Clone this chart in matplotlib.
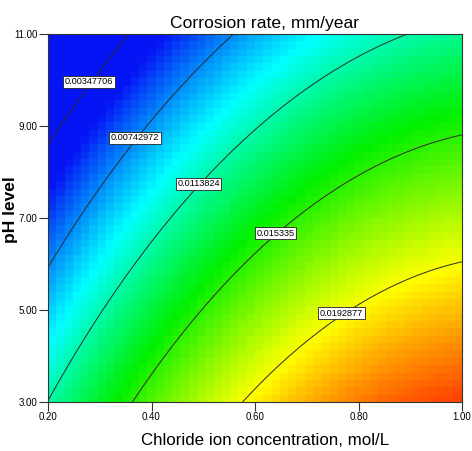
import numpy as np
import matplotlib
matplotlib.use("Agg")
import matplotlib.pyplot as plt
from matplotlib.colors import LinearSegmentedColormap, Normalize

# Factor ranges
chloride_range = [0.20, 1.00]   # mol/L
ph_range = [3.00, 11.00]

# Quadratic response model in coded units (A = chloride, B = pH)
b0 = 0.0142355
bA = 0.0060440
bB = -0.0057789
bAB = 0.0001266
bAA = -0.0023174
bBB = -0.0003631

# Contour levels and where their labels sit
contour_levels = [0.00347706, 0.00742972, 0.0113824, 0.015335, 0.0192877]
label_x = [0.279, 0.368, 0.491, 0.640, 0.767]
label_y = [9.96, 8.74, 7.74, 6.67, 4.93]

x_ticks = [0.20, 0.40, 0.60, 0.80, 1.00]
y_ticks = [3.00, 5.00, 7.00, 9.00, 11.00]

# colour scale limits (blue -> red)
scale_low = 0.0050
scale_high = 0.0242

plt.rcParams["font.family"] = ["Liberation Sans", "DejaVu Sans"]


def response(x, y):
    A = (x - 0.6) / 0.4
    B = (y - 7.0) / 4.0
    return b0 + bA * A + bB * B + bAB * A * B + bAA * A * A + bBB * B * B


cmap = LinearSegmentedColormap.from_list(
    "de", ["#0514f5", "#00ffff", "#00f000", "#ffff00", "#ff1000"])
norm = Normalize(vmin=scale_low, vmax=scale_high, clip=True)

fig = plt.figure(figsize=(4.72, 4.51), dpi=100)
ax = fig.add_axes([48 / 472, 49 / 451, 414 / 472, 368 / 451])

# coarse blocky surface
nx, ny = 50, 50
xe = np.linspace(chloride_range[0], chloride_range[1], nx + 1)
ye = np.linspace(ph_range[0], ph_range[1], ny + 1)
xc = (xe[:-1] + xe[1:]) / 2
yc = (ye[:-1] + ye[1:]) / 2
XC, YC = np.meshgrid(xc, yc)
ax.pcolormesh(xe, ye, response(XC, YC), cmap=cmap, norm=norm, shading="flat")

# contour lines on a fine grid
xf = np.linspace(chloride_range[0], chloride_range[1], 300)
yf = np.linspace(ph_range[0], ph_range[1], 300)
XF, YF = np.meshgrid(xf, yf)
ax.contour(XF, YF, response(XF, YF), levels=contour_levels,
           colors="#2a2a2a", linewidths=0.7)

for lx, ly, lv in zip(label_x, label_y, contour_levels):
    ax.text(lx, ly, f"{lv:g}", ha="center", va="center", fontsize=6.6,
            bbox=dict(boxstyle="square,pad=0.18", fc="white", ec="#222222", lw=0.6))

ax.set_xlim(chloride_range)
ax.set_ylim(ph_range)
ax.set_xticks(x_ticks)
ax.set_xticklabels([f"{v:.2f}" for v in x_ticks])
ax.set_yticks(y_ticks)
ax.set_yticklabels([f"{v:.2f}" for v in y_ticks])
ax.tick_params(direction="out", length=6.5, width=0.8, labelsize=7,
               pad=1.0, color="#333333")
for s in ax.spines.values():
    s.set_color("#333333")
    s.set_linewidth(0.8)

fig.text(265 / 472, 1 - 28 / 451, "Corrosion rate, mm/year",
         ha="center", va="baseline", fontsize=12.6)
fig.text(265 / 472, 1 - 445 / 451, "Chloride ion concentration, mol/L",
         ha="center", va="baseline", fontsize=12.2)
fig.text(18 / 472, 1 - 210 / 451, "pH level", ha="right", va="center",
         rotation=90, fontsize=12.5, fontweight="bold")

fig.savefig("out.png", dpi=100)
